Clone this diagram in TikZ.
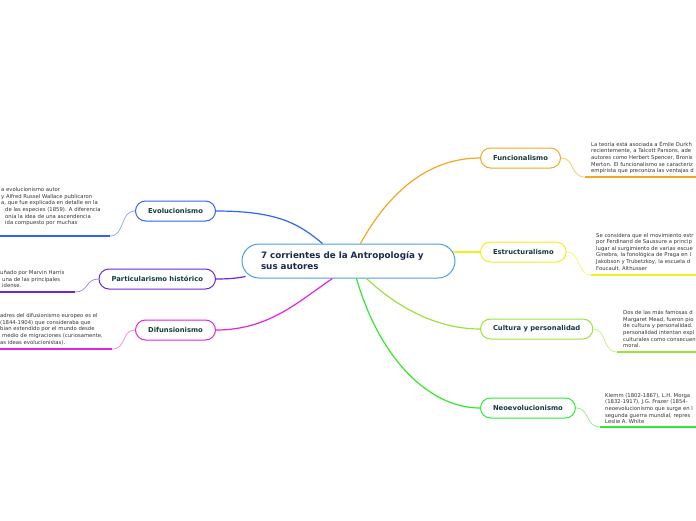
\documentclass[tikz,border=0pt]{standalone}
\usepackage{fontspec}
\setmainfont{DejaVu Sans}
\usetikzlibrary{calc}

\definecolor{centrecol}{HTML}{4A9FE0}
\definecolor{centretext}{HTML}{1B2A4E}
\definecolor{topictext}{HTML}{143C3A}
\definecolor{notecol}{HTML}{333333}
\definecolor{funccol}{HTML}{F5A623}
\definecolor{funclight}{HTML}{FBC96B}
\definecolor{estrcol}{HTML}{EEEE22}
\definecolor{estrlight}{HTML}{F4F480}
\definecolor{cultcol}{HTML}{9BE33A}
\definecolor{cultlight}{HTML}{C6F08A}
\definecolor{neocol}{HTML}{33E633}
\definecolor{neolight}{HTML}{8FF08F}
\definecolor{evolcol}{HTML}{2F66F0}
\definecolor{evollight}{HTML}{8FAEF7}
\definecolor{partcol}{HTML}{6B24E0}
\definecolor{partlight}{HTML}{A98AF0}
\definecolor{difcol}{HTML}{E024E0}
\definecolor{diflight}{HTML}{F08FF0}

\begin{document}
\begin{tikzpicture}[x=1pt, y=-1pt,
				centre/.style={draw=centrecol, line width=1pt, rounded corners=17pt, fill=white, minimum width=213pt, minimum height=34pt, text width=175pt, inner xsep=19pt, align=left, font=\fontsize{8.8}{11}\selectfont\bfseries, text=centretext},
				topic/.style={line width=1pt, rounded corners=10pt, fill=white, minimum width=80pt, minimum height=20pt, inner xsep=12.5pt, inner ysep=0pt, font=\fontsize{6.8}{8}\selectfont\bfseries, text=topictext},
				notes/.style={inner sep=0pt, align=left, font=\fontsize{5.3}{6.6}\selectfont, text=notecol},
				branch/.style={line width=1.2pt},
				twig/.style={line width=0.8pt},
				underline/.style={line width=1.8pt}
				]
				
				\useasboundingbox (0,0) rectangle (696,520);
				\clip (0,0) rectangle (696,520);
				
				% central topic
				\node[centre] (centro) at (348.5,261) {7 corrientes de la Antropología y\\sus autores};
				
				% right side
				\node[topic, draw=funccol, anchor=west] (func) at (480,158) {Funcionalismo};
				\node[topic, draw=estrcol, anchor=west] (estr) at (480,252) {Estructuralismo};
				\node[topic, draw=cultcol, anchor=west] (cult) at (480,329) {Cultura y personalidad};
				\node[topic, draw=neocol, anchor=west] (neo) at (480,408) {Neoevolucionismo};
				
				% left side
				\node[topic, draw=evolcol, anchor=east] (evol) at (216,211) {Evolucionismo};
				\node[topic, draw=partcol, anchor=east] (part) at (216,279) {Particularismo histórico};
				\node[topic, draw=difcol, anchor=east] (dif) at (216,330) {Difunsionismo};
				
				% branches
				\draw[branch, funccol] ($(centro.north)+(12,0)$) .. controls (390,190) and (430,158) .. (func.west);
				\draw[branch, estrcol] ($(centro.east)+(-3,-9)$) .. controls (465,252) and (470,252) .. (estr.west);
				\draw[branch, cultcol] ($(centro.south)+(18,0)$) .. controls (400,310) and (440,329) .. (cult.west);
				\draw[branch, neocol] ($(centro.south)+(8,0)$) .. controls (380,360) and (430,408) .. (neo.west);
				\draw[branch, evolcol] (evol.east) .. controls (280,211) and (300,225) .. ($(centro.north)+(-26,0)$);
				\draw[branch, partcol] (part.east) .. controls (230,279) and (238,278) .. ($(centro.south west)+(4,-2)$);
				\draw[branch, difcol] (dif.east) .. controls (270,330) and (300,300) .. ($(centro.south)+(-16,0)$);
				
				% notes
				\node[notes, anchor=south west] (functxt) at (591,174) {La teoría está asociada a Émile Durkh\\recientemente, a Talcott Parsons, ade\\autores como Herbert Spencer, Bronis\\Merton. El funcionalismo se caracteriz\\empirista que preconiza las ventajas d};
				\node[notes, anchor=south west] (estrtxt) at (596,271) {Se considera que el movimiento estr\\por Ferdinand de Saussure a princip\\lugar al surgimiento de varias escue\\Ginebra, la fonológica de Praga en l\\Jakobson y Trubetzkoy, la escuela d\\Foucault, Althusser};
				\node[notes, anchor=south west] (culttxt) at (623,348) {Dos de las más famosas d\\Margaret Mead, fueron pio\\de cultura y personalidad.\\personalidad intentan expl\\culturales como consecuen\\moral.};
				\node[notes, anchor=south west] (neotxt) at (605,424) {Klemm (1802-1867), L.H. Morga\\(1832-1917), J.G. Frazer (1854-\\neoevolucionismo que surge en l\\segunda guerra mundial, repres\\Leslie A. White};
				\node[notes, anchor=south west] (evoltxt) at (1,226) {a evolucionismo autor\\y Alfred Russel Wallace publicaron\\a, que fue explicada en detalle en la\\\hspace*{4pt}de las especies (1859). A diferencia\\\hspace*{4pt}onía la idea de una ascendencia\\\hspace*{4pt}ida compuesto por muchas};
				\node[notes, anchor=south west] (parttxt) at (0,288) {uñado por Marvin Harris\\\hspace*{2pt}una de las principales\\\hspace*{2pt}idense.};
				\node[notes, anchor=south west] (diftxt) at (0,345) {adres del difusionismo europeo es el\\(1844-1904) que consideraba que\\bían extendido por el mundo desde\\\hspace*{2pt}medio de migraciones (curiosamente,\\as ideas evolucionistas).};
				
				% twigs and underlines
				\coordinate (funcend) at (585,177);
				\coordinate (estrend) at (591,275);
				\coordinate (cultend) at (617,352);
				\coordinate (neoend) at (600,427);
				\coordinate (evolend) at (110,236);
				\coordinate (partend) at (75,292);
				\coordinate (difend) at (112,349);
				
				\draw[twig, funclight] (func.east) .. controls (575,158) and (570,177) .. (funcend);
				\draw[underline, funccol] (funcend) -- (700,177);
				\draw[twig, estrlight] (estr.east) .. controls (581,252) and (577,275) .. (estrend);
				\draw[underline, estrcol] (estrend) -- (700,275);
				\draw[twig, cultlight] (cult.east) .. controls (607,329) and (602,352) .. (cultend);
				\draw[underline, cultcol] (cultend) -- (700,352);
				\draw[twig, neolight] (neo.east) .. controls (590,408) and (585,427) .. (neoend);
				\draw[underline, neocol] (neoend) -- (700,427);
				\draw[twig, evollight] (evol.west) .. controls (120,211) and (125,236) .. (evolend);
				\draw[underline, evolcol] (evolend) -- (-5,236);
				\draw[twig, partlight] (part.west) .. controls (85,279) and (89,292) .. (partend);
				\draw[underline, partcol] (partend) -- (-5,292);
				\draw[twig, diflight] (dif.west) .. controls (121,330) and (127,349) .. (difend);
				\draw[underline, difcol] (difend) -- (-5,349);
				
			\end{tikzpicture}
\end{document}
